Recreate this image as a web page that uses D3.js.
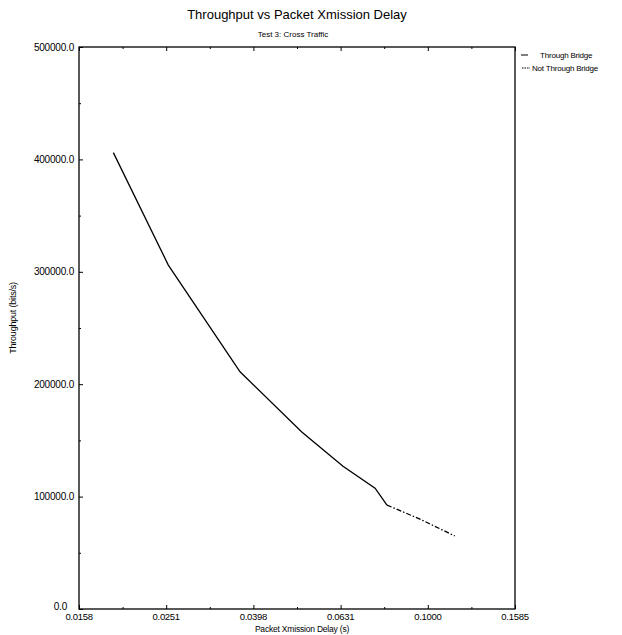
<!DOCTYPE html>
<html>
<head>
<meta charset="utf-8">
<script src="https://cdn.jsdelivr.net/npm/d3@7"></script>
<style>
  body { margin: 0; background: #fff; }
  text { font-family: "Liberation Sans", Arial, sans-serif; fill: #000; }
</style>
</head>
<body>
<script>
// data
const throughBridgeDelay = [0.0190, 0.0254, 0.0371, 0.0514, 0.0639, 0.0757, 0.0806];
const throughBridgeRate  = [406000, 306000, 211000, 157500, 127000, 107500, 92500];
const notThroughDelay = [0.0806, 0.0959, 0.1153];
const notThroughRate  = [92500, 80000, 65000];

const xTickValues = [0.015849, 0.025119, 0.039811, 0.063096, 0.1, 0.158489];
const xTickLabels = ["0.0158", "0.0251", "0.0398", "0.0631", "0.1000", "0.1585"];
const yTickValues = [0, 100000, 200000, 300000, 400000, 500000];
const yTickLabels = ["0.0", "100000.0", "200000.0", "300000.0", "400000.0", "500000.0"];
const legendNames = ["Through Bridge", "Not Through Bridge"];

// plot box
let margin = {top: 47, right: 107, bottom: 26, left: 79},
    width = 622 - margin.left - margin.right,
    height = 635 - margin.top - margin.bottom;

let svg = d3.select("body").append("svg")
    .attr("width", 622)
    .attr("height", 635);

let g = svg.append("g")
    .attr("transform", "translate(" + margin.left + "," + margin.top + ")");

let x = d3.scaleLog()
    .domain([xTickValues[0], xTickValues[xTickValues.length - 1]])
    .range([0, width]);

let y = d3.scaleLinear()
    .domain([0, 500000])
    .range([height, 0]);

// minor ticks halfway between majors (half a step in log / linear space)
let xMinor = d3.range(xTickValues.length - 1).map(function (i) {
    return Math.sqrt(xTickValues[i] * xTickValues[i + 1]);
});
let yMinor = d3.range(yTickValues.length - 1).map(function (i) {
    return (yTickValues[i] + yTickValues[i + 1]) / 2;
});

// frame
g.append("rect")
    .attr("x", 0).attr("y", 0)
    .attr("width", width).attr("height", height)
    .attr("fill", "none")
    .attr("stroke", "#000")
    .attr("stroke-width", 1.3);

// bottom ticks pointing in
g.append("g")
    .attr("transform", "translate(0," + height + ")")
    .call(d3.axisBottom(x).tickValues(xTickValues).tickSize(-4).tickFormat(""))
    .call(function (s) { s.select(".domain").remove(); });
g.append("g")
    .attr("transform", "translate(0," + height + ")")
    .call(d3.axisBottom(x).tickValues(xMinor).tickSize(-2).tickFormat(""))
    .call(function (s) { s.select(".domain").remove(); });

// top ticks pointing in
g.append("g")
    .call(d3.axisTop(x).tickValues(xTickValues).tickSize(-4).tickFormat(""))
    .call(function (s) { s.select(".domain").remove(); });
g.append("g")
    .call(d3.axisTop(x).tickValues(xMinor).tickSize(-2).tickFormat(""))
    .call(function (s) { s.select(".domain").remove(); });

// left ticks pointing in
g.append("g")
    .call(d3.axisLeft(y).tickValues(yTickValues).tickSize(-4).tickFormat(""))
    .call(function (s) { s.select(".domain").remove(); });
g.append("g")
    .call(d3.axisLeft(y).tickValues(yMinor).tickSize(-2).tickFormat(""))
    .call(function (s) { s.select(".domain").remove(); });

g.selectAll(".tick line").attr("stroke", "#000").attr("stroke-width", 1);

// tick labels
g.selectAll(".xlab")
    .data(xTickValues)
    .enter()
    .append("text")
    .attr("x", function (d) { return x(d); })
    .attr("y", height + 11)
    .attr("text-anchor", "middle")
    .attr("font-size", "9.5px")
    .attr("letter-spacing", "-0.3")
    .text(function (d, i) { return xTickLabels[i]; });

g.selectAll(".ylab")
    .data(yTickValues)
    .enter()
    .append("text")
    .attr("x", function (d, i) { return i === 0 ? -12 : -5; })
    .attr("y", function (d, i) { return i === 0 ? y(d) + 1 : y(d) + 3.5; })
    .attr("text-anchor", "end")
    .attr("font-size", "10px")
    .attr("letter-spacing", "-0.2")
    .text(function (d, i) { return yTickLabels[i]; });

// titles
svg.append("text")
    .attr("x", margin.left + width / 2)
    .attr("y", 19)
    .attr("text-anchor", "middle")
    .attr("font-size", "13px")
    .text("Throughput vs Packet Xmission Delay");

svg.append("text")
    .attr("x", margin.left + width / 2 - 4)
    .attr("y", 37)
    .attr("text-anchor", "middle")
    .attr("font-size", "8px")
    .text("Test 3: Cross Traffic");

svg.append("text")
    .attr("x", margin.left + width / 2 + 5)
    .attr("y", 632)
    .attr("text-anchor", "middle")
    .attr("font-size", "8.5px")
    .attr("letter-spacing", "-0.2")
    .text("Packet Xmission Delay (s)");

svg.append("text")
    .attr("transform", "translate(16,318) rotate(-90)")
    .attr("text-anchor", "middle")
    .attr("font-size", "9px")
    .attr("letter-spacing", "-0.2")
    .text("Throughput (bits/s)");

// lines
let line = d3.line()
    .x(function (d) { return x(d[0]); })
    .y(function (d) { return y(d[1]); });

g.append("path")
    .datum(d3.zip(throughBridgeDelay, throughBridgeRate))
    .attr("d", line)
    .attr("fill", "none")
    .attr("stroke", "#000")
    .attr("stroke-width", 1.3);

g.append("path")
    .datum(d3.zip(notThroughDelay, notThroughRate))
    .attr("d", line)
    .attr("fill", "none")
    .attr("stroke", "#000")
    .attr("stroke-width", 1.3)
    .attr("stroke-dasharray", "5,2,1.5,2");

// legend
let legend = svg.append("g")
    .attr("transform", "translate(" + (margin.left + width) + "," + 0 + ")");

legend.append("line")
    .attr("x1", 6).attr("x2", 13)
    .attr("y1", 55).attr("y2", 55)
    .attr("stroke", "#000").attr("stroke-width", 1);
legend.append("line")
    .attr("x1", 7).attr("x2", 15)
    .attr("y1", 68).attr("y2", 68)
    .attr("stroke", "#000").attr("stroke-width", 1)
    .attr("stroke-dasharray", "1.5,1");

legend.selectAll(".leg")
    .data(legendNames)
    .enter()
    .append("text")
    .attr("x", function (d, i) { return i === 0 ? 25 : 17; })
    .attr("y", function (d, i) { return 58 + i * 13; })
    .attr("font-size", "8px")
    .attr("letter-spacing", "-0.2")
    .text(function (d) { return d; });
</script>
</body>
</html>
